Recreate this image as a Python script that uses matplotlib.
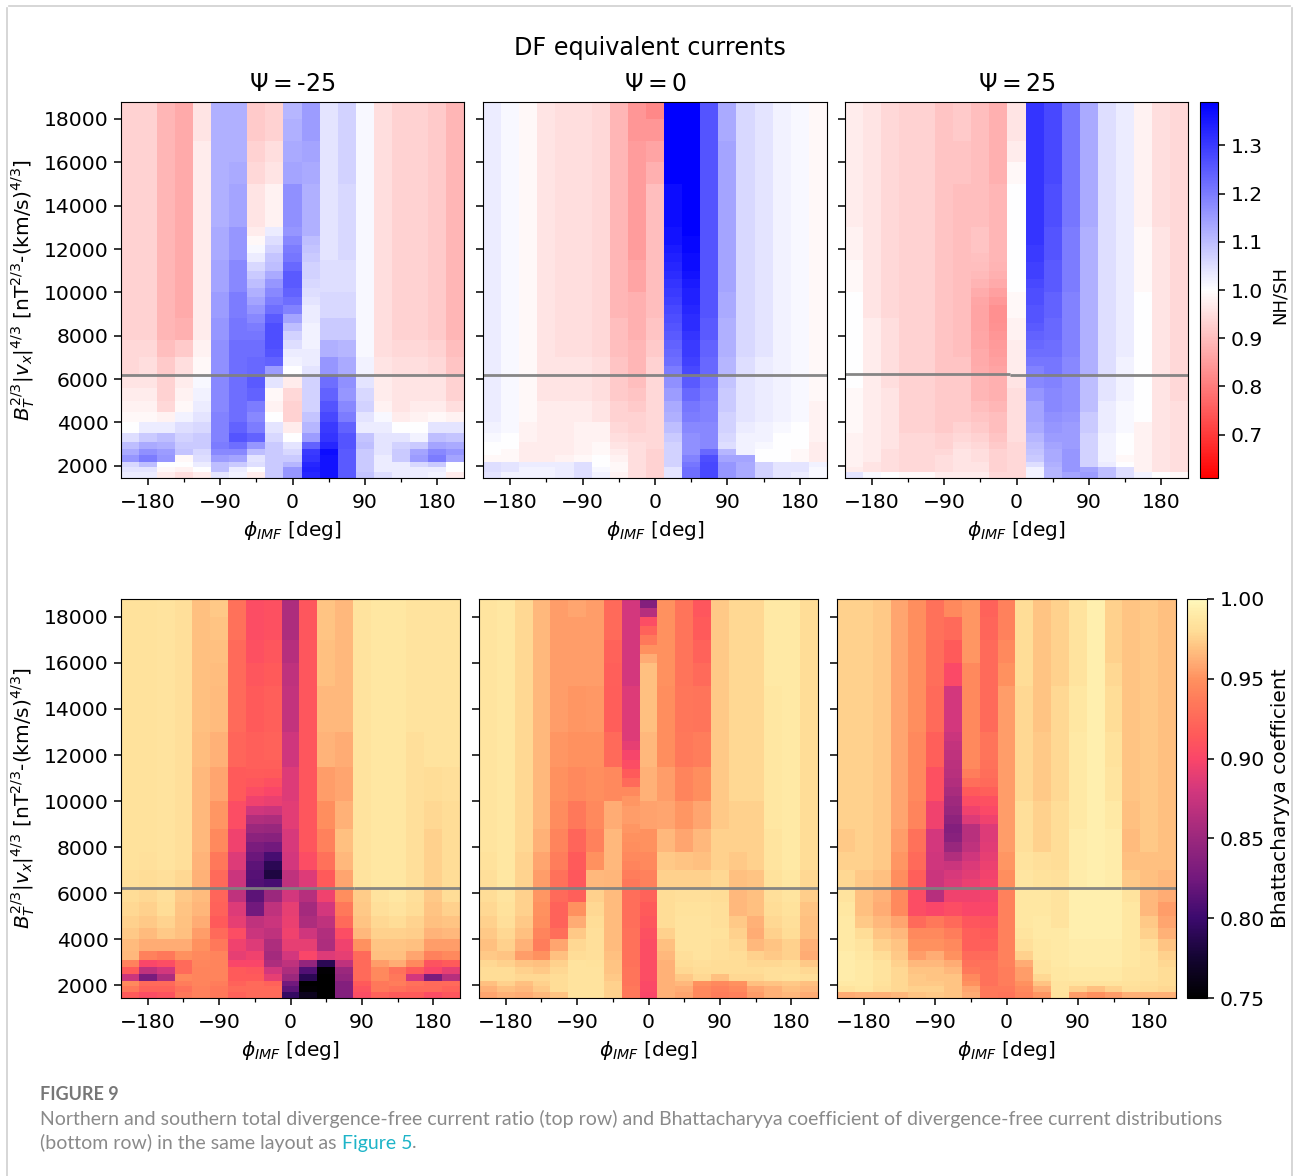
import matplotlib
matplotlib.use('Agg')
import matplotlib.pyplot as plt
import numpy as np
from matplotlib.colors import LinearSegmentedColormap

W, H = 1293, 1176

# bin edges, rows run top to bottom
y_edges = [18800, 18000, 17000, 16000, 15000, 13000, 11500, 10000, 8800, 7800, 7000, 6200,
           5600, 5000, 4500, 4000, 3500, 3100, 2800, 2500, 2200, 1950, 1700, 1440]
phi_edges = np.arange(-213.75, 214, 22.5)
# finer rows for the columns with a strong vertical gradient
fine_edges = list(range(13000, 6199, -400))
cap_edges = [18800, 18400, 18000, 17600, 17200, 16800, 16400, 16000]

# NH/SH ratio in percent, one list per phi column
ratio_m25 = [
    [93]*9 + [94, 94, 96, 97, 98, 99, 100, 105, 110, 113, 116, 106, 104, 103],
    [93]*9 + [94, 95, 96, 97, 98, 99, 103, 108, 113, 117, 120, 110, 104, 103],
    [89]*9 + [90, 92, 93, 93, 94, 98, 103, 110, 112, 115, 116, 100, 99, 97],
    [87]*8 + [88, 92, 95, 97, 98, 99, 102, 105, 107, 108, 109, 99, 100, 98, 95],
    [96, 96] + [97]*7 + [98, 99, 101, 102, 103, 104, 106, 108, 108, 106, 105, 103, 100, 97],
    [112]*5 + [113, 114, 115, 116, 117, 117, 118, 118, 118, 119, 119, 119, 120, 118, 115, 110, 110, 104],
    [112, 112, 112, 113, 114, 116, 118, 120, 121, 122, 122, 122, 122, 122, 122, 124, 126, 122, 118, 114, 108, 103, 102],
    [92, 92, 93, 94, 96, 98, 104, 115, 120, 122, 123, 125, 124, 120, 118, 120, 124, 116, 110, 104, 105, 100, 97],
    [93, 93, 95, 96, 98, 103, 108, 115, 124, 128, 124, 104, 99, 98, 100, 104, 106, 108, 108, 108, 108, 108, 108],
    [111, 112, 113, 114, 117, 120, 124, 118, 110, 103, 101, 97, 94, 93, 93, 97, 100, 104, 106, 108, 111, 116, 116],
    [115, 115, 114, 113, 112, 108, 106, 104, 102, 103, 104, 107, 107, 107, 109, 111, 115, 124, 130, 131, 133, 134, 133],
    [104]*6 + [105, 106, 108, 112, 116, 122, 124, 126, 128, 130, 131, 133, 137, 136, 136, 136, 136],
    [107, 107, 107, 107, 106, 106, 105, 106, 108, 111, 113, 117, 116, 118, 120, 124, 126, 126, 125, 125, 125, 125, 125],
    [101]*10 + [102, 104, 106, 107, 104, 103, 109, 110, 108, 108, 108, 108, 109],
    [95]*10 + [96, 97, 97, 98, 101, 103, 104, 104, 104, 103, 103, 103, 105],
    [93]*9 + [94, 95, 96, 96, 96, 97, 100, 104, 107, 108, 108, 103, 103, 103],
    [93]*9 + [94, 95, 96, 96, 97, 98, 100, 102, 108, 114, 115, 106, 103, 103],
    [92]*9 + [93, 94, 96, 96, 97, 99, 104, 110, 114, 118, 120, 108, 103, 102],
    [89]*9 + [90, 91, 93, 93, 95, 98, 104, 109, 113, 116, 114, 100, 100, 97],
]
ratio_0 = [
    [103]*15 + [102, 101, 100, 100, 99, 105, 105, 104],
    [101]*15 + [101, 100, 100, 99, 99, 104, 104, 102],
    [99]*15 + [98, 98, 97, 97, 97, 103, 102, 102],
    [96]*13 + [97]*7 + [103, 102, 102],
    [95]*10 + [96, 96, 96, 97, 97, 97, 97, 97, 97, 98, 103, 103, 103],
    [95]*10 + [96, 96, 96, 97, 97, 98, 98, 98, 98, 99, 105, 105, 105],
    [94]*10 + [95, 95, 95, 96, 96, 98, 98, 99, 99, 100, 100, 101, 102],
    [89]*8 + [90, 90, 91, 92, 92, 93, 93, 94, 95, 96, 97, 98, 99, 99, 98],
    [84, 84, 85, 85, 85, 85, 86, 88, 88, 89, 89, 90, 91, 92, 93, 93, 94, 95, 95, 95, 95, 95, 95],
    [82, 84, 86, 88, 90, 90, 90, 90, 91, 92, 93, 94, 94, 94, 94, 94, 94, 94, 93, 93, 93, 93, 93],
    [139, 139, 139, 139, 137, 135, 131, 128, 124, 121, 119, 117, 115, 113, 112, 110, 108, 107, 107, 107, 107, 104, 104],
    [139]*5 + [138, 135, 133, 132, 130, 127, 125, 123, 121, 120, 118, 117, 117, 117, 119, 121, 122, 122],
    [126]*8 + [125, 124, 123, 121, 120, 119, 119, 118, 118, 118, 123, 127, 128, 128, 128],
    [113, 113, 114, 114, 114, 114, 114, 113, 112, 112, 111, 109, 108, 108, 107, 107, 106, 105, 111, 114, 116, 116, 116],
    [106]*10 + [105, 104, 104, 104, 104, 103, 102, 102, 102, 114, 113, 113, 113],
    [104]*10 + [103, 103, 103, 103, 103, 102, 102, 101, 100, 100, 107, 107, 107],
    [102]*15 + [101, 100, 100, 100, 100, 104, 104, 104],
    [101]*15 + [100, 100, 100, 99, 99, 104, 104, 103],
    [99]*13 + [98, 98, 98, 98, 97, 97, 97, 102, 101, 101],
]
ratio_p25 = [
    [97]*5 + [98, 99, 100, 100, 100, 100, 100, 99, 99, 99, 99, 98, 98, 98, 98, 98, 97, 104],
    [96]*8 + [97]*12 + [96, 96, 101],
    [94]*8 + [95]*4 + [96]*6 + [95]*4 + [100],
    [93]*16 + [94]*6 + [99],
    [93]*16 + [94]*6 + [99],
    [91]*11 + [92]*5 + [93, 93, 94, 95, 95, 95, 97],
    [92, 92, 91, 91, 90, 90, 90, 90, 90, 90, 91, 92, 92, 92, 92, 93, 94, 95, 96, 96, 96, 96, 97],
    [90, 90, 90, 90, 90, 91, 90, 86, 86, 87, 88, 89, 89, 90, 91, 92, 93, 94, 95, 95, 96, 96, 97],
    [88, 88, 88, 88, 89, 89, 87, 83, 84, 85, 86, 88, 88, 89, 90, 90, 91, 92, 93, 93, 93, 93, 94],
    [96, 96, 97, 99, 100, 100, 100, 99, 98, 97, 97, 96, 95, 95, 95, 95, 95, 94, 94, 94, 94, 94, 94],
    [131]*5 + [130, 128, 125, 121, 120, 119, 118, 116, 114, 114, 113, 111, 110, 109, 108, 105, 102, 102],
    [128, 128, 128, 128, 127, 126, 125, 124, 123, 122, 121, 119, 118, 118, 117, 116, 115, 114, 113, 113, 112, 111, 111],
    [121]*5 + [120, 120, 119, 119, 119, 118, 117, 117, 117, 116, 115, 115, 115, 116, 116, 116, 116, 114],
    [113]*5 + [112]*6 + [110, 110, 110, 108, 108, 107, 107, 107, 107, 107, 114, 115],
    [105]*11 + [104, 104, 103, 103, 103, 102, 102, 102, 102, 103, 110, 110],
    [103]*10 + [102, 102, 102, 101, 101, 101, 100, 100, 100, 99, 100, 105, 105],
    [98]*5 + [99, 99] + [100]*8 + [98]*7 + [102],
    [95]*5 + [96]*17 + [100],
    [94]*13 + [95]*9 + [99],
]

# Bhattacharyya coefficient in 1/1000, one list per phi column
bc_m25 = [
    [984]*10 + [982, 980, 978, 975, 972, 966, 965, 940, 915, 875, 945, 935, 915],
    [984]*9 + [983, 980, 978, 975, 972, 966, 960, 940, 900, 870, 830, 925, 920, 905],
    [985]*10 + [982, 982, 980, 976, 972, 960, 935, 905, 880, 860, 925, 920, 910],
    [982]*10 + [978, 972, 970, 969, 968, 960, 950, 925, 925, 945, 938, 930, 935],
    [968]*5 + [967, 965, 965, 965, 963, 962, 966, 964, 960, 955, 950, 945, 943, 942, 942, 942, 940, 940],
    [972, 970, 968, 967, 966, 962, 958, 952, 945, 935, 925, 922, 920, 915, 925, 935, 942, 942, 942, 942, 938, 935, 935],
    [930, 930, 925, 925, 925, 922, 915, 905, 895, 885, 875, 870, 885, 890, 905, 895, 890, 900, 915, 915, 920, 925, 920],
    [905, 905, 908, 912, 915, 918, 915, 880, 845, 825, 815, 815, 825, 870, 875, 885, 895, 900, 912, 915, 925, 925, 925],
    [908, 908, 912, 915, 918, 920, 915, 885, 840, 800, 830, 850, 870, 875, 870, 860, 855, 860, 880, 890, 920, 925, 925],
    [860, 860, 865, 870, 872, 878, 885, 888, 882, 880, 870, 880, 890, 892, 895, 890, 880, 870, 860, 850, 825, 815, 795],
    [912]*9 + [905, 885, 865, 855, 860, 878, 890, 900, 845, 810, 790, 750, 752, 765],
    [970, 970, 968, 968, 965, 963, 955, 948, 940, 930, 915, 895, 880, 870, 862, 860, 885, 790, 752, 750, 750, 750, 750],
    [965, 965, 965, 965, 965, 960, 958, 962, 968, 965, 958, 948, 935, 925, 905, 895, 890, 870, 850, 845, 835, 835, 835],
    [985]*11 + [973, 972, 970, 965, 950, 925, 925, 925, 925, 915, 910, 905],
    [988]*11 + [985, 982, 978, 975, 970, 968, 955, 945, 945, 935, 935, 920],
    [988]*12 + [985, 980, 975, 970, 968, 960, 930, 935, 938, 930, 915],
    [985]*5 + [982]*7 + [980, 976, 974, 968, 958, 945, 915, 880, 930, 925, 915],
    [985]*6 + [980, 978, 975, 975, 975, 972, 970, 968, 963, 955, 940, 910, 900, 830, 925, 925, 905],
    [985]*6 + [982, 980, 980, 980, 980, 980, 975, 970, 965, 955, 945, 915, 890, 865, 925, 920, 912],
]
bc_0 = [
    [986]*9 + [984, 982, 980, 978, 975, 972, 968, 972, 978, 980, 980, 968, 962, 958],
    [988]*11 + [986, 984, 982, 978, 975, 970, 975, 980, 980, 975, 968, 962],
    [978]*9 + [976, 976, 975, 975, 972, 968, 962, 955, 970, 975, 978, 968, 965, 960],
    [965]*8 + [962, 958, 955, 952, 950, 948, 942, 938, 950, 968, 972, 978, 975, 972, 965],
    [955]*5 + [952, 950, 947, 942, 938, 930, 925, 920, 920, 928, 958, 968, 975, 978, 980, 980, 980, 970],
    [958, 955, 955, 955, 952, 950, 945, 935, 922, 915, 913, 918, 950, 960, 972, 978, 980] + [985]*6,
    [955, 955, 955, 955, 953, 950, 948, 945, 940, 950, 965, 975, 978, 980, 982, 982, 982, 984] + [985]*5,
    [925, 925, 920, 918, 917, 925, 945, 960, 965, 965, 964, 966, 966, 966, 966, 966, 968, 970, 970, 972, 975, 975, 975],
    [880, 880, 880, 880, 885, 895, 915, 955, 950, 945, 935, 928, 928, 928, 930, 930, 930, 930, 932, 932, 932, 935, 935],
    [835, 900, 950, 968, 968, 965, 962, 957, 950, 945, 940, 920, 915, 912, 908, 905, 905, 905, 905, 905, 902, 902, 900],
    [950, 950, 950, 950, 948, 948, 955, 958, 965, 972, 975, 980, 980, 980, 975, 968, 965, 962, 962, 962, 962, 962, 962],
    [932, 932, 932, 932, 933, 935, 942, 952, 958, 970, 975, 982, 984, 985, 985, 985, 982, 980, 978, 972, 965, 960, 958],
    [912, 915, 920, 925, 932, 938, 948, 958, 965, 968, 975, 982, 984, 985, 985, 985, 985, 982, 980, 978, 950, 945, 945],
    [972]*8 + [975, 975, 978, 980, 982, 982, 984, 982, 982, 980, 980, 968, 945, 940, 938],
    [978]*7 + [975, 975, 972, 968, 965, 965, 972, 975, 978, 980, 980, 980, 978, 950, 945, 940],
    [978]*7 + [975, 975, 975, 970, 968, 968, 962, 960, 965, 975, 978, 980, 978, 968, 958, 955],
    [990]*4 + [988]*4 + [986, 986, 984, 982, 980, 978, 975, 970, 972, 978, 982, 982, 970, 962, 962],
    [990]*10 + [988, 986, 984, 982, 980, 975, 975, 980, 982, 984, 972, 968, 965],
    [980]*10 + [978, 974, 970, 968, 968, 962, 960, 972, 978, 982, 968, 965, 960],
]
bc_p25 = [
    [975]*8 + [972, 975, 978, 985, 988, 990, 990, 990, 992, 992, 992, 992, 990, 985, 960],
    [975]*10 + [972, 968, 968, 972, 980, 986, 988, 990, 990, 990, 990, 988, 962],
    [972]*10 + [968, 962, 960, 965, 970, 975, 980, 985, 985, 985, 984, 982, 962],
    [958]*8 + [955, 952, 948, 945, 945, 958, 965, 970, 972, 975, 978, 978, 978, 978, 965],
    [948]*5 + [945, 945, 942, 930, 925, 918, 905, 905, 925, 945, 950, 955, 965, 970, 972, 972, 975, 970],
    [930, 930, 928, 928, 925, 918, 908, 895, 880, 878, 875, 865, 900, 935, 945, 950, 960, 965, 970, 970, 972, 975, 972],
    [945, 925, 915, 902, 880, 872, 865, 850, 845, 880, 885, 895, 905, 925, 938, 945, 950, 960, 965, 970, 970, 970, 970],
    [952, 952, 952, 945, 945, 945, 930, 875, 870, 880, 890, 895, 900, 912, 918, 918, 925, 930, 935, 945, 950, 958, 960],
    [920, 922, 925, 925, 925, 932, 925, 885, 880, 890, 895, 897, 900, 910, 915, 918, 925, 930, 930, 930, 930, 935, 935],
    [940, 940, 945, 950, 955, 955, 955, 955, 955, 952, 948, 940, 940, 940, 940, 940, 940, 940, 938, 938, 938, 935, 932],
    [980, 980, 980, 980, 978, 978, 978, 982, 982, 985, 987, 988, 988, 988, 986, 982, 975, 960, 955, 955, 950, 945, 942],
    [970, 970, 970, 970, 970, 972, 972, 975, 975, 982, 984, 988, 988, 990, 990, 988, 988, 985, 985, 978, 970, 960, 952],
    [975, 975, 975, 975, 978, 978, 978, 980, 980, 980, 983, 985, 985, 985, 990, 990, 990, 990, 988, 988, 986, 986, 985],
    [985, 985, 985, 985, 988, 990, 990, 990, 992, 992, 992, 994, 994, 994, 994, 992, 992, 992, 990, 990, 985, 975, 955],
    [994]*15 + [992, 992, 992, 990, 990, 985, 968, 950],
    [975, 975, 975, 978, 980, 984, 986, 990, 992, 992, 992, 994, 994, 994, 994, 992, 992, 992, 990, 990, 985, 975, 955],
    [970]*7 + [968, 966, 968, 972, 985, 988, 988, 988, 988, 988, 988, 986, 986, 984, 982, 962],
    [972]*9 + [968, 968, 965, 965, 972, 975, 982, 985, 985, 985, 985, 982, 980, 962],
    [968]*10 + [965, 960, 955, 958, 962, 970, 975, 978, 980, 980, 980, 978, 962],
]

# fine_edges rows for single columns, same units as the panel
fine_m25 = {7: [97, 99, 101, 103, 106, 108, 110, 112, 114, 116, 118, 120, 121, 122, 122, 123, 123],
            8: [103, 105, 107, 109, 110, 113, 116, 118, 120, 122, 125, 127, 127, 127, 126, 124, 115],
            9: [116, 118, 120, 121, 123, 125, 125, 124, 122, 119, 114, 110, 107, 105, 103, 102, 100],
            10: [112, 110, 109, 108, 107, 107, 106, 105, 104, 103, 103, 102, 102, 102, 103, 103, 104]}
fine_0 = {10: [136, 136, 135, 134, 133, 132, 131, 130, 129, 128, 127, 126, 125, 124, 123, 122, 120],
          11: [139, 138, 138, 137, 137, 136, 135, 134, 134, 133, 132, 132, 131, 130, 130, 129, 128]}
fine_p25 = {7: [91, 91, 91, 90.5, 90, 89.5, 88.5, 87.5, 86.5, 86, 86, 86, 86.5, 86.5, 87, 87, 87.5],
            8: [89, 89, 89, 89, 88.5, 88, 87, 85.5, 84.2, 83.2, 83.2, 83.5, 84, 84.5, 85, 85.5, 86],
            10: [131, 131, 130, 130, 129, 129, 128, 127, 127, 126, 126, 125, 124, 123, 122, 121, 119]}
fine_bc_m25 = {7: [918, 918, 918, 918, 916, 912, 905, 895, 878, 862, 850, 840, 830, 822, 815, 812, 810],
               8: [920, 920, 920, 918, 915, 908, 900, 892, 875, 860, 848, 838, 825, 805, 790, 782, 805]}
fine_bc_0 = {8: [885, 890, 898, 905, 915, 925, 945, 952, 955, 955, 952, 950, 948, 945, 942, 938, 935]}
fine_bc_p25 = {6: [875, 872, 870, 868, 866, 863, 858, 852, 848, 842, 835, 838, 848, 862, 875, 882, 885],
               7: [945, 945, 945, 945, 938, 928, 915, 905, 895, 885, 866, 866, 870, 878, 884, 888, 892],
               8: [932, 932, 932, 930, 928, 925, 918, 908, 902, 895, 885, 885, 887, 890, 893, 896, 898]}
# top of the Psi=0 column at phi=0, cap_edges rows
cap_bc_0 = [835, 865, 905, 920, 935, 950, 960]
cap_col = 9

psi_titles = ['-25', '0', '25']
phi_ticks = [-180, -90, 0, 90, 180]
phi_minor = [-135, -45, 45, 135]
y_ticks = list(range(2000, 18001, 2000))
ratio_ticks = [0.7, 0.8, 0.9, 1.0, 1.1, 1.2, 1.3]
bc_ticks = [0.75, 0.80, 0.85, 0.90, 0.95, 1.00]

# grey line pieces (phi start, phi end, level)
lines_top = [[(-214, 214, 6200)],
             [(-214, 214, 6200)],
             [(-214, -8, 6235), (-8, 214, 6200)]]
lines_bot = [[(-214, 80, 6200), (80, 214, 6225)],
             [(-214, 214, 6200)],
             [(-214, 10, 6200), (10, 145, 6235), (145, 214, 6200)]]

bc_cmap = LinearSegmentedColormap.from_list('bc', [
    (0.00, '#000000'), (0.10, '#140532'), (0.20, '#3c0a6e'), (0.30, '#73197d'),
    (0.40, '#9b287d'), (0.52, '#d2377d'), (0.60, '#fa4669'), (0.66, '#ff5a5a'),
    (0.74, '#ff785a'), (0.80, '#ff915f'), (0.84, '#ffaa73'), (0.88, '#ffc382'),
    (0.92, '#ffdc96'), (0.96, '#ffe9a5'), (1.00, '#fff8bc')])

label_size = 14.5
tick_size = 14.6
ylabel_txt = r'$B_T^{2/3}|v_x|^{4/3}$ [nT$^{2/3}$-(km/s)$^{4/3}$]'
xlabel_txt = r'$\phi_{IMF}$ [deg]'


def px_axes(fig, x0, x1, y0, y1):
    return fig.add_axes([x0 / W, 1 - y1 / H, (x1 - x0) / W, (y1 - y0) / H])


def draw_panel(ax, cols, fine, scale, cmap, vmin, vmax, segs, left):
    grid = np.array(cols).T / scale
    mesh = ax.pcolormesh(phi_edges, y_edges, grid, cmap=cmap, vmin=vmin, vmax=vmax, shading='flat')
    for c, vals in fine.items():
        col = np.array(vals).reshape(-1, 1) / scale
        ax.pcolormesh(phi_edges[c:c + 2], fine_edges, col, cmap=cmap, vmin=vmin, vmax=vmax, shading='flat')
    for a, b, lev in segs:
        ax.plot([a, b], [lev, lev], color='gray', lw=2.0, alpha=0.95, solid_capstyle='butt')
    ax.set_xlim(phi_edges[0], phi_edges[-1])
    ax.set_ylim(1440, 18780)
    ax.set_xticks(phi_ticks)
    ax.set_xticks(phi_minor, minor=True)
    ax.set_yticks(y_ticks)
    ax.set_xticklabels(['\N{MINUS SIGN}180', '\N{MINUS SIGN}90', '0', '90', '180'])
    if not left:
        ax.set_yticklabels([])
    else:
        ax.set_ylabel(ylabel_txt, fontsize=label_size, labelpad=5)
    ax.set_xlabel(xlabel_txt, fontsize=label_size, labelpad=5)
    ax.tick_params(axis='both', which='major', labelsize=tick_size, length=5, width=1.1, pad=4)
    ax.tick_params(axis='x', which='major', pad=5.5)
    ax.tick_params(axis='x', which='minor', length=3, width=0.9)
    return mesh


fig = plt.figure(figsize=(W / 100, H / 100), dpi=100)

# page frame
frame = dict(color='#cfcfcf', lw=1.2, transform=fig.transFigure)
fig.add_artist(plt.Line2D([6.5 / W, 6.5 / W], [0, 1 - 8 / H], **frame))
fig.add_artist(plt.Line2D([1292 / W, 1292 / W], [0, 1 - 8 / H], **frame))
fig.add_artist(plt.Line2D([9 / W, 1290 / W], [1 - 5.5 / H, 1 - 5.5 / H], **frame))

top_x = [(121, 464), (483, 827), (845, 1188)]
bot_x = [(121, 460), (479, 818), (837, 1176)]
ratio_panels = [ratio_m25, ratio_0, ratio_p25]
bc_panels = [bc_m25, bc_0, bc_p25]
fine_top = [fine_m25, fine_0, fine_p25]
fine_bot = [fine_bc_m25, fine_bc_0, fine_bc_p25]

for i in range(3):
    ax = px_axes(fig, top_x[i][0], top_x[i][1], 102, 478)
    m_top = draw_panel(ax, ratio_panels[i], fine_top[i], 100.0, 'bwr_r', 0.61, 1.39, lines_top[i], i == 0)
    ax.set_title(r'$\Psi=$' + psi_titles[i], fontsize=17, pad=8)

    ax = px_axes(fig, bot_x[i][0], bot_x[i][1], 599, 998)
    m_bot = draw_panel(ax, bc_panels[i], fine_bot[i], 1000.0, bc_cmap, 0.75, 1.0, lines_bot[i], i == 0)
    if i == 1:
        col = np.array(cap_bc_0).reshape(-1, 1) / 1000.0
        ax.pcolormesh(phi_edges[cap_col:cap_col + 2], cap_edges, col, cmap=bc_cmap, vmin=0.75, vmax=1.0,
                      shading='flat')

cax = px_axes(fig, 1200, 1218, 102, 478)
cb = fig.colorbar(m_top, cax=cax)
cb.set_ticks(ratio_ticks)
cb.ax.tick_params(labelsize=tick_size, length=5, width=1.1, pad=4)
cb.set_label('NH/SH', fontsize=label_size - 1.5)
cb.ax.yaxis.set_label_coords(3.94, 0.487)

cax = px_axes(fig, 1187, 1207, 599, 998)
cb = fig.colorbar(m_bot, cax=cax)
cb.set_ticks(bc_ticks)
cb.ax.set_yticklabels(['%.2f' % t for t in bc_ticks])
cb.ax.tick_params(labelsize=tick_size, length=5, width=1.1, pad=4)
cb.set_label('Bhattacharyya coefficient', fontsize=label_size)
cb.ax.yaxis.set_label_coords(4.2, 0.5)

fig.text(650 / W, 1 - 48 / H, 'DF equivalent currents', ha='center', va='center', fontsize=17.2)

# caption
cap_color = '#8a8a8a'
cap_size = 14
fig.text(40 / W, 1 - 1095 / H, 'FIGURE 9', fontsize=13, fontweight='bold', family='Lato',
         color='#777777', va='center')
fig.text(40 / W, 1 - 1119 / H,
         'Northern and southern total divergence-free current ratio (top row) and Bhattacharyya coefficient of divergence-free current distributions',
         fontsize=cap_size, family='Lato', color=cap_color, va='center')
t1 = fig.text(40 / W, 1 - 1143 / H, '(bottom row) in the same layout as ', fontsize=cap_size, family='Lato',
              color=cap_color, va='center')
r = fig.canvas.get_renderer()
x = t1.get_window_extent(r).x1
t2 = fig.text(x / W, 1 - 1143 / H, 'Figure 5', fontsize=cap_size, family='Lato', color='#1eb4c8', va='center')
x = t2.get_window_extent(r).x1
fig.text(x / W, 1 - 1143 / H, '.', fontsize=cap_size, family='Lato', color=cap_color, va='center')

fig.savefig('out.png', dpi=100)
